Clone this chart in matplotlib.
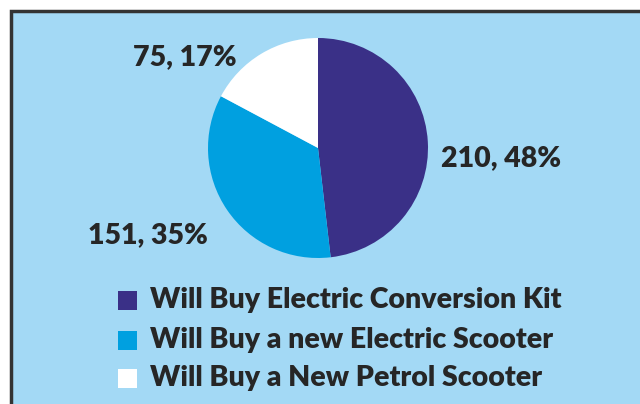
import matplotlib
matplotlib.use("Agg")
import matplotlib.pyplot as plt
from matplotlib.patches import Rectangle

# survey answers
labels = ["Will Buy Electric Conversion Kit",
          "Will Buy a new Electric Scooter",
          "Will Buy a New Petrol Scooter"]
counts = [210, 151, 75]
colors = ["#3a3087", "#00a0e0", "#ffffff"]

# where each "count, pct" label sits (in pie radius units)
label_pos = [(1.66, -0.09), (-1.55, -0.79), (-1.21, 0.83)]

W, H = 640, 404
fig = plt.figure(figsize=(W / 100, H / 100), dpi=100)
fig.patch.set_facecolor("white")

# light blue panel with dark frame
panel = Rectangle((10.5 / W, -0.05), 1.0, (H - 10.5) / H + 0.05,
                  transform=fig.transFigure, facecolor="#a3d9f5",
                  edgecolor="#333333", lw=2.5, zorder=-5)
fig.patches.append(panel)

plt.rcParams["font.family"] = ["Lato", "DejaVu Sans"]
txt_color = "#262626"
weight = "heavy"

cx, cy, r = 318, H - 148, 110
ax = fig.add_axes([(cx - r) / W, (cy - r) / H, 2 * r / W, 2 * r / H])
ax.set_zorder(1)
ax.set_facecolor("none")
ax.pie(counts, colors=colors, startangle=90, counterclock=False,
       radius=1, wedgeprops=dict(linewidth=0))
ax.set_xlim(-1, 1)
ax.set_ylim(-1, 1)
ax.set_aspect("equal")
ax.axis("off")

total = sum(counts)
for c, (x, y) in zip(counts, label_pos):
    ax.text(x, y, f"{c}, {round(c / total * 100)}%", ha="center", va="center",
            fontsize=20.5, fontweight=weight, color=txt_color, clip_on=False)

# legend, drawn by hand
row_y = [300, 340, 378]
for lab, col, y in zip(labels, colors, row_y):
    fig.patches.append(Rectangle((118 / W, (H - y - 9.5) / H), 19 / W, 19 / H,
                                 transform=fig.transFigure, facecolor=col,
                                 edgecolor="none", zorder=2))
    fig.text(150 / W, (H - y) / H, lab, ha="left", va="center",
             fontsize=20.5, fontweight=weight, color=txt_color)

fig.savefig("out.png", dpi=100, facecolor=fig.get_facecolor())
